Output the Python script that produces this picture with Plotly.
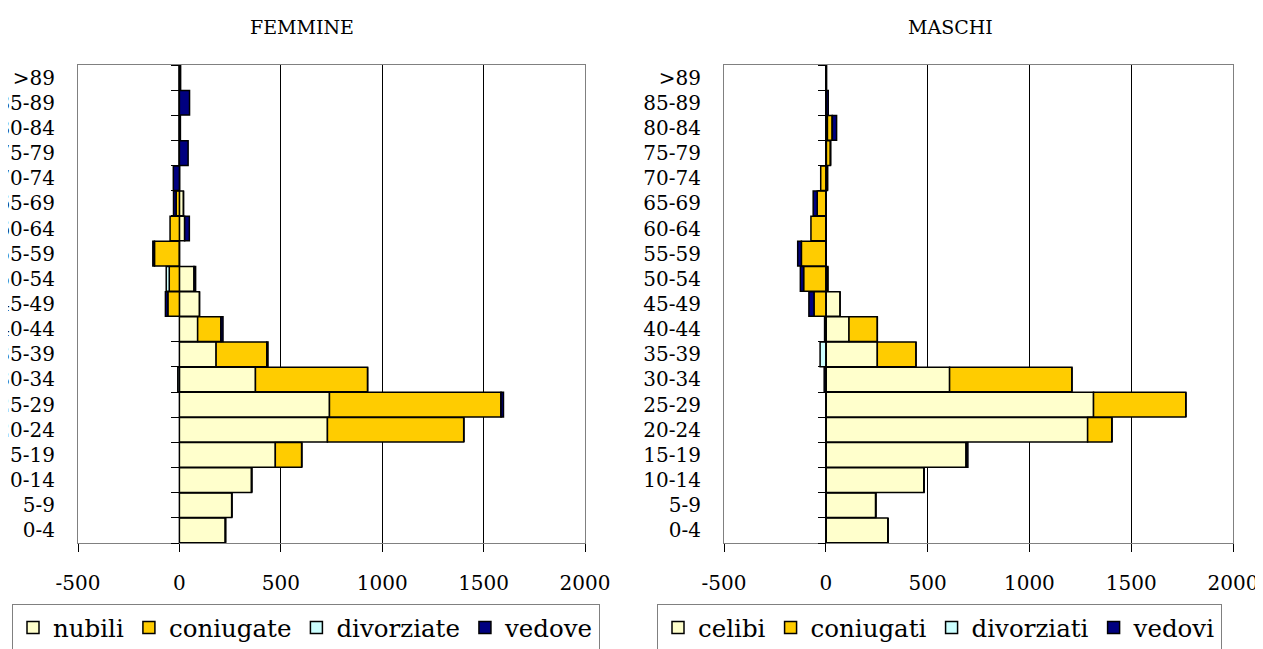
import plotly.graph_objects as go

# Age classes, bottom to top
ages = ["0-4", "5-9", "10-14", "15-19", "20-24", "25-29", "30-34", "35-39", "40-44",
        "45-49", "50-54", "55-59", "60-64", "65-69", "70-74", "75-79", "80-84", "85-89", ">89"]

# FEMMINE
nubili = [227, 258, 356, 473, 730, 740, 375, 181, 90, 99, 72, 0, 26, 20, 0, 0, 0, 0, 0]
coniugate = [0, 0, 0, 130, 672, 846, 553, 250, 115, -57, -50, -123, -46, -16, 0, 0, 0, 0, 0]
divorziate = [0, 0, 0, 0, 0, 0, -8, 0, 0, 0, -15, 0, 0, 0, 0, 0, 0, 0, 0]
vedove = [0, 0, 0, 0, 0, 12, 0, 6, 10, -12, 8, -8, 23, -13, -30, 43, 5, 50, 6]

# MASCHI
celibi = [305, 245, 482, 690, 1286, 1315, 608, 253, 114, 70, 10, 0, 0, 0, 8, 3, 8, 0, 0]
coniugati = [0, 0, 0, 0, 119, 453, 601, 190, 139, -58, -109, -120, -73, -42, -25, 20, 24, 0, 0]
divorziati = [0, 0, 0, 0, 0, 0, 0, -28, 0, 0, 0, 0, 0, 0, 0, 0, 0, 0, 0]
vedovi = [0, 0, 0, 8, 0, 0, -8, 0, -6, -25, -16, -18, 0, -20, 0, 0, 21, 12, 4]

# x axis ticks (hyphen minus as in the original)
xticks = [-500, 0, 500, 1000, 1500, 2000]
xticklabels = ["-500", "0", "500", "1000", "1500", "2000"]

colors = ["#FFFFCC", "#FFCC00", "#CCFFFF", "#000080"]
FONT = "DejaVu Serif"

fig = go.Figure()

left = [("nubili", nubili), ("coniugate", coniugate), ("divorziate", divorziate), ("vedove", vedove)]
right = [("celibi", celibi), ("coniugati", coniugati), ("divorziati", divorziati), ("vedovi", vedovi)]

for (name, vals), c in zip(left, colors):
    fig.add_trace(go.Bar(y=ages, x=vals, name=name, orientation="h", xaxis="x", yaxis="y",
                         marker=dict(color=c, line=dict(color="black", width=1.5)),
                         legend="legend"))
for (name, vals), c in zip(right, colors):
    fig.add_trace(go.Bar(y=ages, x=vals, name=name, orientation="h", xaxis="x2", yaxis="y2",
                         marker=dict(color=c, line=dict(color="black", width=1.5)),
                         legend="legend2"))

# dummy traces so the zero-line category axes get drawn
fig.add_trace(go.Scatter(y=ages, x=[None] * len(ages), xaxis="x", yaxis="y3",
                         showlegend=False, hoverinfo="skip", mode="markers"))
fig.add_trace(go.Scatter(y=ages, x=[None] * len(ages), xaxis="x2", yaxis="y4",
                         showlegend=False, hoverinfo="skip", mode="markers"))

# page body has an 8px margin: size the figure so it ends at the window edge
OFF = 8
W, H = 1263 - OFF, 649 - OFF


def px_x(x):
    return (x - OFF) / W


def px_y(y):
    return 1 - (y - OFF) / H


dom_l = [px_x(78), px_x(585)]
dom_r = [px_x(724), px_x(1233)]
dom_y = [px_y(543), px_y(65)]
xrange = [-500, 2000]
zero_l = dom_l[0] + (0 - xrange[0]) / (xrange[1] - xrange[0]) * (dom_l[1] - dom_l[0])
zero_r = dom_r[0] + (0 - xrange[0]) / (xrange[1] - xrange[0]) * (dom_r[1] - dom_r[0])

xax = dict(range=xrange, tickvals=xticks, ticktext=xticklabels, showgrid=True,
           gridcolor="black", gridwidth=1, automargin=False,
           zeroline=False, showline=True, linecolor="#808080", linewidth=1, mirror=True,
           ticks="outside", ticklen=8, tickcolor="black",
           tickfont=dict(family=FONT, size=20, color="black"), ticklabelstandoff=14)
yax = dict(type="category", categoryorder="array", categoryarray=ages, range=[-0.5, 18.5],
           showgrid=False, zeroline=False, showline=True, linecolor="#808080", mirror=True,
           automargin=False, ticks="", tickfont=dict(family=FONT, size=20, color="black"),
           ticklabelstandoff=18)
yzero = dict(type="category", categoryorder="array", categoryarray=ages, range=[-0.5, 18.5],
             showgrid=False, zeroline=False, showline=True, linecolor="black", linewidth=1,
             ticks="outside", ticklen=8, tickcolor="black", tickson="boundaries",
             showticklabels=False, anchor="free", automargin=False)

legend_style = dict(orientation="h", xanchor="left", yanchor="top", bordercolor="#808080",
                    borderwidth=1, bgcolor="white", font=dict(family=FONT, size=24.5, color="black"),
                    itemclick=False, itemwidth=30, tracegroupgap=0)

fig.update_layout(
    width=W, height=H, margin=dict(l=0, r=0, t=0, b=0, autoexpand=False),
    paper_bgcolor="white", plot_bgcolor="white",
    barmode="relative", bargap=0.02,
    xaxis=dict(domain=dom_l, anchor="y", **xax),
    yaxis=dict(domain=dom_y, anchor="x", **yax),
    xaxis2=dict(domain=dom_r, anchor="y2", **xax),
    yaxis2=dict(domain=dom_y, anchor="x2", **yax),
    yaxis3=dict(overlaying="y", position=zero_l, **yzero),
    yaxis4=dict(overlaying="y2", position=zero_r, **yzero),
    legend=dict(x=px_x(12), y=px_y(604), **legend_style),
    legend2=dict(x=px_x(657), y=px_y(604), **legend_style),
    annotations=[
        dict(text="FEMMINE", x=px_x(302), y=px_y(27), xref="paper", yref="paper",
             xanchor="center", yanchor="middle", showarrow=False,
             font=dict(family=FONT, size=19, color="black")),
        dict(text="MASCHI", x=px_x(951), y=px_y(27), xref="paper", yref="paper",
             xanchor="center", yanchor="middle", showarrow=False,
             font=dict(family=FONT, size=19, color="black")),
    ],
    showlegend=True,
)

fig.write_html("out.html")
